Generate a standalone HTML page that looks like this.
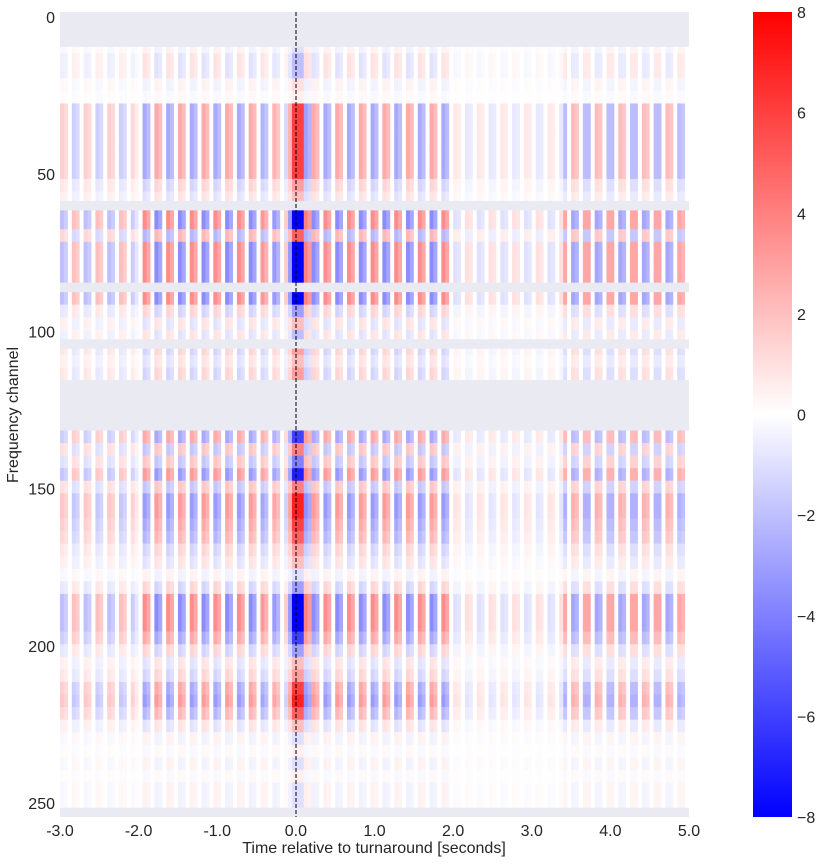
<!DOCTYPE html>
<html><head><meta charset="utf-8">
<style>
body{margin:0;background:#fff;font-family:"Liberation Sans",sans-serif;}
svg text{font-family:"Liberation Sans",sans-serif;font-size:16px;fill:#262626;}
</style></head>
<body>
<svg id="chart" width="827" height="862" xmlns="http://www.w3.org/2000/svg">
<defs>
<linearGradient id="cbar" x1="0" y1="1" x2="0" y2="0">
<stop offset="0" stop-color="#0000ff"/><stop offset="0.5" stop-color="#ffffff"/><stop offset="1" stop-color="#ff0000"/>
</linearGradient>
</defs>
<rect x="60" y="12" width="629" height="805" fill="#eaeaf2"/>
<g id="cells"></g>
<g id="masks"></g>
<line x1="296" y1="12" x2="296" y2="817" stroke="#000" stroke-width="1" stroke-dasharray="4,2"/>
<g id="xticks"></g>
<g id="yticks"></g>
<text x="374" y="853" text-anchor="middle">Time relative to turnaround [seconds]</text>
<text transform="translate(18,415) rotate(-90)" text-anchor="middle">Frequency channel</text>
<rect x="753" y="12" width="39" height="805" fill="url(#cbar)"/>
<g id="cticks"></g>
</svg>
<script>
const rowAmp=[null,null,-1,-2,-2,1,0.5,6,6,6,6,6,6,3,2,-8,
-8,5,-8,-8,-8,-8,-8,-3,2,-2,3,2,3,null,null,null,
null,-6,4,-4,-7,4,7,7,6,5,3,2,-1,-3,-8,-8,
-8,-6,-3,2,3,6,7,5,2,-1,0.5,-1,0.5,-1,-1,null];
const colPat=[0.25,0.2,0,-0.25,-0.2,0,0.25,0.2,0,-0.25,-0.2,0,0.25,0.2,0,-0.25,-0.2,0,0.2,0.1,
0,-0.45,-0.35,0,0.45,0.35,0,-0.45,-0.35,0,0.45,0.35,0,-0.45,-0.35,0,0.45,0.35,0,-0.45,-0.35,0,0.45,0.35,0,-0.45,-0.35,0,0.45,0.35,0,-0.4,-0.3,0,0.4,0.3,0,-0.2,0.4,1,
1,1,-0.5,-0.4,
0.45,0.35,0,-0.45,-0.35,0,0.45,0.35,0,-0.45,-0.35,0,0.45,0.35,0,-0.45,-0.35,0,0.45,0.35,0,-0.45,-0.35,0,0.45,0.35,0,-0.45,-0.35,0,0.45,0.35,0,-0.45,-0.35,0,
0.12,0.1,0,-0.12,-0.1,0,0.12,0.1,0,-0.12,-0.1,0,0.12,0.1,0,-0.12,-0.1,0,0.12,0.1,0,-0.12,-0.1,0,0.12,0.1,0,-0.12,
-0.35,0,0.35,0.3,0,-0.35,-0.35,0,0.35,0.3,0,-0.35,-0.35,0,0.35,0.3,0,-0.35,-0.35,0,0.35,0.3,0,-0.35,-0.35,0,0.35,0.3,0,-0.35,-0.3,0];
const extraMasks=[[0,9],[59,61],[85,87],[103,105]];
const xTickLabels=["-3.0","-2.0","-1.0","0.0","1.0","2.0","3.0","4.0","5.0"];
const xTickVals=[-3,-2,-1,0,1,2,3,4,5];
const yTickVals=[0,50,100,150,200,250];
const cTickVals=[8,6,4,2,0,-2,-4,-6,-8];
const NS="http://www.w3.org/2000/svg";
const xs=t=>60+(t+3)*(629/8);
const ys=ch=>17+ch*3.144;
const cs=v=>12+(8-v)*(805/16);
function col(v){v=Math.max(-8,Math.min(8,v));const t=(v+8)/16;
 if(t<0.5){const c=Math.round(2*t*255);return `rgb(${c},${c},255)`;}
 const c=Math.round(2*(1-t)*255);return `rgb(255,${c},${c})`;}
function mk(tag,a,p){const e=document.createElementNS(NS,tag);for(const k in a)e.setAttribute(k,a[k]);p.appendChild(e);return e;}
const cells=document.getElementById('cells');
const dt=8/colPat.length;
rowAmp.forEach((a,g)=>{
 if(a===null)return;
 const y0=ys(g*4-0.5),y1=ys(g*4+3.5);
 colPat.forEach((p,i)=>{
  const x0=xs(-3+i*dt),x1=xs(-3+(i+1)*dt);
  const r=mk('rect',{x:x0,y:y0,width:x1-x0+0.3,height:y1-y0+0.3,fill:col(a*p)},cells);
  
  
 });
});
const masks=document.getElementById('masks');
rowAmp.forEach((a,g)=>{ if(a!==null)return;
 const top=Math.max(12,ys(g*4-0.5));
 const r=mk('rect',{x:60,y:top,width:629,height:Math.min(817,ys(g*4+3.5))-top,fill:'#eaeaf2'},masks);
 
 
});
extraMasks.forEach(m=>{
 const top=Math.max(12,ys(m[0]-0.5));
 const r=mk('rect',{x:60,y:top,width:629,height:ys(m[1]+0.5)-top,fill:'#eaeaf2'},masks);
 
 
});
const xt=document.getElementById('xticks');
xTickVals.forEach((v,i)=>{const t=mk('text',{x:xs(v),y:836,'text-anchor':'middle'},xt);t.textContent=xTickLabels[i];
 
 });
const yt=document.getElementById('yticks');
yTickVals.forEach(v=>{const t=mk('text',{x:55,y:ys(v)+6,'text-anchor':'end'},yt);t.textContent=v;
 
 });
const ct=document.getElementById('cticks');
cTickVals.forEach(v=>{const t=mk('text',{x:797,y:cs(v)+6,'text-anchor':'start'},ct);t.textContent=v<0?'\u2212'+(-v):v;
 
 });
</script>
</body></html>
